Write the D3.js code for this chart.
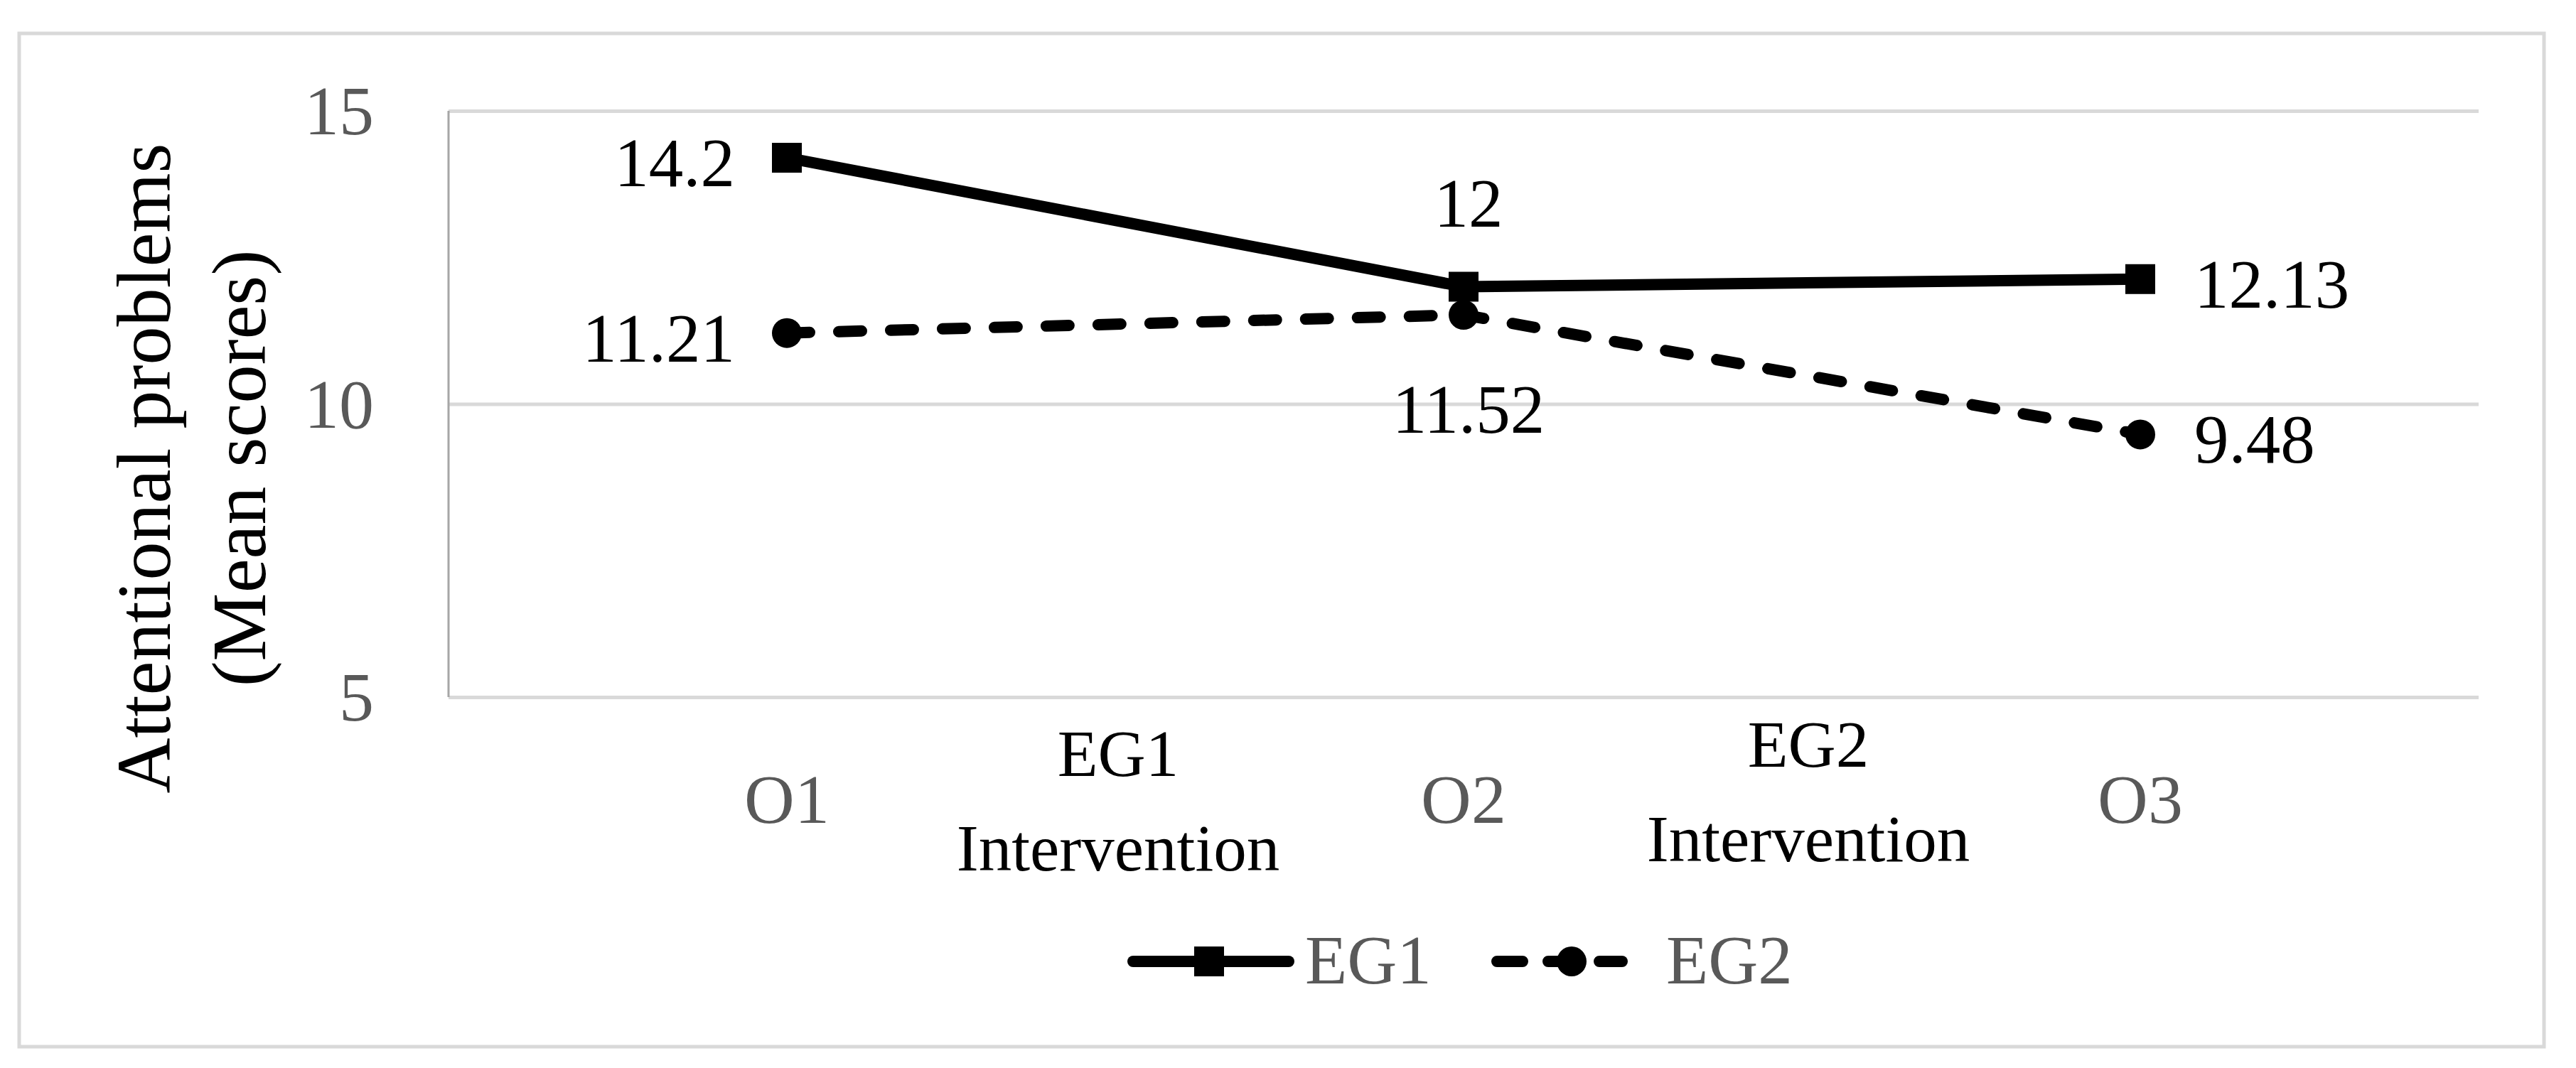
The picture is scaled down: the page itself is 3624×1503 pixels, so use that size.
<!DOCTYPE html>
<html>
<head>
<meta charset="utf-8">
<script src="https://cdnjs.cloudflare.com/ajax/libs/d3/7.8.5/d3.min.js"></script>
<style>
body { margin: 0; background: #fff; }
text { font-family: "Liberation Serif", "Times New Roman", serif; }
</style>
</head>
<body>
<svg width="3624" height="1503"></svg>
<script>
var categories = ["O1", "O2", "O3"];
var eg1Values = [14.2, 12, 12.13];
var eg2Values = [11.21, 11.52, 9.48];
var eg1Labels = ["14.2", "12", "12.13"];
var eg2Labels = ["11.21", "11.52", "9.48"];
var eg1Place = ["left", "above", "right"];
var eg2Place = ["left", "below", "right"];
var yTicks = [5, 10, 15];
var interventions = [["EG1", "Intervention"], ["EG2", "Intervention"]];
var seriesNames = ["EG1", "EG2"];

var svg = d3.select('svg');

// outer frame
svg.append('rect')
    .attr('x', 27).attr('y', 47)
    .attr('width', 3552).attr('height', 1426)
    .attr('fill', 'none')
    .attr('stroke', '#d9d9d9')
    .attr('stroke-width', 5);

var ScaleX = d3.scaleBand().domain(categories).range([631, 3487]);
var ScaleY = d3.scaleLinear().domain([5, 15]).range([981, 156]);

// gridlines
var grid = svg.append('g')
    .attr('transform', 'translate(631,0)')
    .call(d3.axisLeft(ScaleY).tickValues(yTicks).tickSize(-2856).tickFormat(''));
grid.select('.domain').remove();
grid.selectAll('line').attr('stroke', '#d9d9d9').attr('stroke-width', 5);

// y axis line
svg.append('line')
    .attr('x1', 631).attr('x2', 631)
    .attr('y1', ScaleY(15)).attr('y2', ScaleY(5))
    .attr('stroke', '#a6a6a6')
    .attr('stroke-width', 3);

// y tick labels
svg.selectAll('.ytick')
    .data(yTicks)
    .enter()
    .append('text')
    .attr('x', 526)
    .attr('y', function(d){ return ScaleY(d); })
    .attr('dy', '0.34em')
    .style('text-anchor', 'end')
    .style('font-size', '98px')
    .attr('fill', '#595959')
    .text(function(d){ return d; });

// x tick labels
svg.selectAll('.xtick')
    .data(categories)
    .enter()
    .append('text')
    .attr('x', function(d){ return ScaleX(d) + ScaleX.bandwidth() / 2; })
    .attr('y', 1158)
    .style('text-anchor', 'middle')
    .style('font-size', '98px')
    .attr('fill', '#595959')
    .text(function(d){ return d; });

// intervention notes between the categories
var noteDx = [-10, 9];
var noteY = [1092, 1079];
interventions.forEach(function(lines, i){
    var bx = ScaleX(categories[i]) + ScaleX.bandwidth();
    lines.forEach(function(t, j){
        svg.append('text')
            .attr('x', bx + noteDx[i])
            .attr('y', noteY[i] + j * 133)
            .style('text-anchor', 'middle')
            .style('font-size', '93px')
            .attr('fill', '#000')
            .text(t);
    });
});

// y title
var yTitle = svg.append('text')
    .attr('transform', 'translate(239,659)rotate(-90)')
    .style('text-anchor', 'middle')
    .style('font-size', '108px')
    .attr('fill', '#000');
yTitle.append('tspan').attr('x', 0).attr('y', 0).text('Attentional problems');
yTitle.append('tspan').attr('x', 0).attr('y', 134).text('(Mean scores)');

function cx(i){ return ScaleX(categories[i]) + ScaleX.bandwidth() / 2; }

var line = d3.line()
    .x(function(d, i){ return cx(i); })
    .y(function(d){ return ScaleY(d); });

// EG2 dashed line
svg.append('path')
    .datum(eg2Values)
    .attr('d', line)
    .attr('fill', 'none')
    .attr('stroke', '#000')
    .attr('stroke-width', 16)
    .attr('stroke-dasharray', '32,41')
    .attr('stroke-linecap', 'round');

// EG1 solid line
svg.append('path')
    .datum(eg1Values)
    .attr('d', line)
    .attr('fill', 'none')
    .attr('stroke', '#000')
    .attr('stroke-width', 16)
    .attr('stroke-linejoin', 'round');

svg.selectAll('.m1')
    .data(eg1Values)
    .enter()
    .append('rect')
    .attr('x', function(d, i){ return cx(i) - 21; })
    .attr('y', function(d){ return ScaleY(d) - 21; })
    .attr('width', 42).attr('height', 42)
    .attr('fill', '#000');

svg.selectAll('.m2')
    .data(eg2Values)
    .enter()
    .append('circle')
    .attr('cx', function(d, i){ return cx(i); })
    .attr('cy', function(d){ return ScaleY(d); })
    .attr('r', 21)
    .attr('fill', '#000');

// data labels
function drawLabels(values, labels, place){
    svg.selectAll(null)
        .data(values)
        .enter()
        .append('text')
        .attr('x', function(d, i){
            if (place[i] == 'left') return cx(i) - 73;
            if (place[i] == 'right') return cx(i) + 76;
            return cx(i) + 7;
        })
        .attr('y', function(d, i){
            var y = ScaleY(d);
            if (place[i] == 'above') return y - 85;
            if (place[i] == 'below') return y + 166;
            return y + 40;
        })
        .style('text-anchor', function(d, i){
            if (place[i] == 'left') return 'end';
            if (place[i] == 'right') return 'start';
            return 'middle';
        })
        .style('font-size', '97px')
        .attr('fill', '#000')
        .text(function(d, i){ return labels[i]; });
}
drawLabels(eg1Values, eg1Labels, eg1Place);
drawLabels(eg2Values, eg2Labels, eg2Place);

// legend
var legend = svg.append('g');
legend.append('line')
    .attr('x1', 1594).attr('x2', 1813).attr('y1', 1353).attr('y2', 1353)
    .attr('stroke', '#000').attr('stroke-width', 16).attr('stroke-linecap', 'round');
legend.append('rect')
    .attr('x', 1680).attr('y', 1332).attr('width', 42).attr('height', 42)
    .attr('fill', '#000');
legend.append('text')
    .attr('x', 1836).attr('y', 1384)
    .style('font-size', '97px')
    .attr('fill', '#595959')
    .text(seriesNames[0]);

legend.append('line')
    .attr('x1', 2106).attr('x2', 2282).attr('y1', 1353).attr('y2', 1353)
    .attr('stroke', '#000').attr('stroke-width', 16).attr('stroke-linecap', 'round')
    .attr('stroke-dasharray', '36,36');
legend.append('circle')
    .attr('cx', 2211).attr('cy', 1353).attr('r', 21)
    .attr('fill', '#000');
legend.append('text')
    .attr('x', 2344).attr('y', 1384)
    .style('font-size', '97px')
    .attr('fill', '#595959')
    .text(seriesNames[1]);
</script>
</body>
</html>
